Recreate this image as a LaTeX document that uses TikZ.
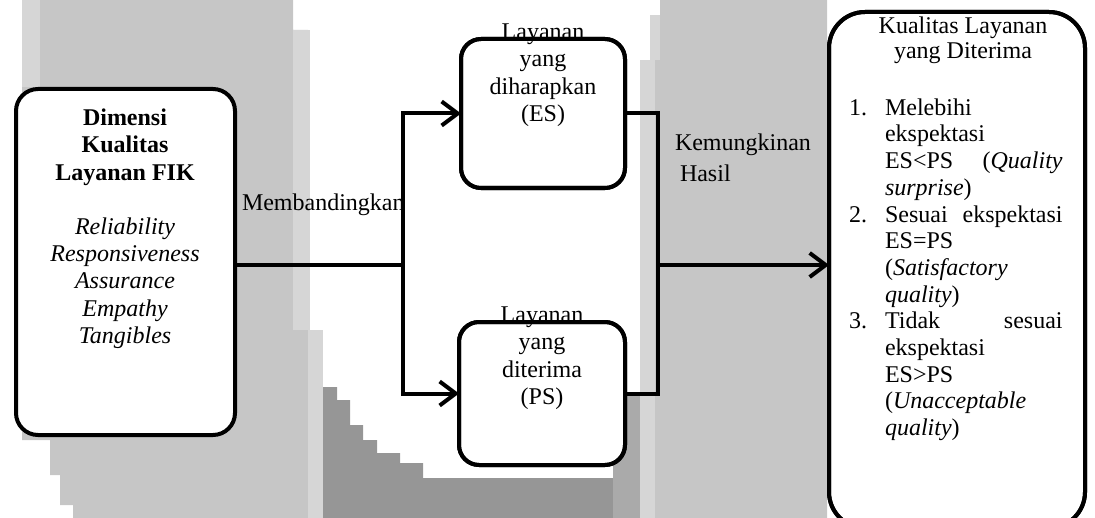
\documentclass[tikz,border=0pt]{standalone}
\usepackage{fontspec}
\setmainfont{Liberation Serif}
\usetikzlibrary{arrows.meta}

\definecolor{abuMuda}{RGB}{198,198,198}
\definecolor{abuPucat}{RGB}{214,214,214}
\definecolor{abuSedang}{RGB}{170,170,170}
\definecolor{abuTua}{RGB}{150,150,150}

\begin{document}
\begin{tikzpicture}[x=0.5pt, y=-0.5pt, line width=2pt,
  font=\fontsize{12}{13.6}\selectfont,
  >={Straight Barb[length=8pt,width=12pt]},
  kotak/.style={draw, fill=white, rounded corners=10pt, inner sep=0pt, outer sep=0pt},
  teks/.style={inner sep=0pt, align=center}]
  \useasboundingbox (0,0) rectangle (1095,518);
  \clip (0,0) rectangle (1095,518);

  % latar: logo pudar
  \fill[abuMuda] (22,0) -- (293,0) -- (293,30) -- (308,30) -- (308,518) -- (73,518) -- (73,505)
    -- (60,505) -- (60,475) -- (50,475) -- (50,440) -- (22,440) -- cycle;
  \fill[abuPucat] (22,0) rectangle (40,87);
  \fill[abuPucat] (293,30) rectangle (310,330);
  \fill[abuPucat] (308,330) rectangle (323,518);
  \fill[abuTua] (323,387) -- (337,387) -- (337,400) -- (350,400) -- (350,425) -- (363,425)
    -- (363,440) -- (377,440) -- (377,453) -- (400,453) -- (400,463) -- (423,463)
    -- (423,478) -- (613,478) -- (613,518) -- (323,518) -- cycle;
  \fill[abuSedang] (613,395) rectangle (640,518);
  \fill[abuMuda] (660,0) -- (827,0) -- (827,518) -- (655,518) -- (655,25) -- (660,25) -- cycle;
  \fill[abuPucat] (640,60) rectangle (655,518);
  \fill[abuPucat] (650,15) rectangle (660,60);

  % kotak
  \node[kotak, rounded corners=11pt, minimum width=109.5pt, minimum height=173pt] (dim) at (125.5,262) {};
  \node[kotak, minimum width=82pt, minimum height=74.5pt] (es) at (543,113.5) {};
  \node[kotak, minimum width=83pt, minimum height=71.5pt] (ps) at (542,393.5) {};
  \node[kotak, rounded corners=18pt, minimum width=128pt, minimum height=258pt] (hasil) at (957,270) {};

  % teks
  \node[teks, anchor=north] (dimTeks) at (125,107) {\textbf{Dimensi}\\\textbf{Kualitas}\\\textbf{Layanan FIK}\\[13.6pt]
    \textit{Reliability}\\\textit{Responsiveness}\\\textit{Assurance}\\\textit{Empathy}\\\textit{Tangibles}};
  \node[teks, anchor=north] (esTeks) at (543,22) {Layanan\\yang\\diharapkan\\(ES)};
  \node[teks, anchor=north] (psTeks) at (542,305) {Layanan\\yang\\diterima\\(PS)};
  \node[inner sep=0pt, anchor=base west] (banding) at (240,210) {Membandingkan};
  \node[inner sep=0pt, anchor=north west, align=left] (mungkin) at (673,131.6)
    {Kemungkinan\\[2pt]\hspace*{2.5pt}Hasil};
  \node[teks, anchor=north] (hasilJudul) at (963,14.6) {Kualitas Layanan\\[-1pt]yang Diterima};
  \node[inner sep=0pt, anchor=north west, align=left, font=\fontsize{12}{13.35}\selectfont] (hasilDaftar) at (847,96.6) {%
    \makebox[18pt][l]{1.}Melebihi\\
    \hspace*{18pt}ekspektasi\\
    \hspace*{18pt}\makebox[88.8pt][s]{ES<PS (\textit{Quality}}\\
    \hspace*{18pt}\textit{surprise})\\
    \makebox[18pt][l]{2.}\makebox[88.8pt][s]{Sesuai ekspektasi}\\
    \hspace*{18pt}ES=PS\\
    \hspace*{18pt}(\textit{Satisfactory}\\
    \hspace*{18pt}\textit{quality})\\
    \makebox[18pt][l]{3.}\makebox[88.8pt][s]{Tidak sesuai}\\
    \hspace*{18pt}ekspektasi\\
    \hspace*{18pt}ES>PS\\
    \hspace*{18pt}(\textit{Unacceptable}\\
    \hspace*{18pt}\textit{quality})};

  % panah
  \coordinate (pisah) at (403,265);
  \coordinate (gabung) at (658,265);
  \draw (dim.east |- pisah) -- (pisah);
  \draw[->] (pisah) |- (es.west);
  \draw[->] (pisah) |- (ps.west);
  \draw (es.east) -| (gabung);
  \draw (ps.east) -| (gabung);
  \draw[->] (gabung) -- (hasil.west |- gabung);

  % garis tepi di atas teks
  \foreach \k/\r in {es/10pt, ps/10pt, hasil/18pt}
    \draw[rounded corners=\r] (\k.north west) rectangle (\k.south east);
\end{tikzpicture}
\end{document}
